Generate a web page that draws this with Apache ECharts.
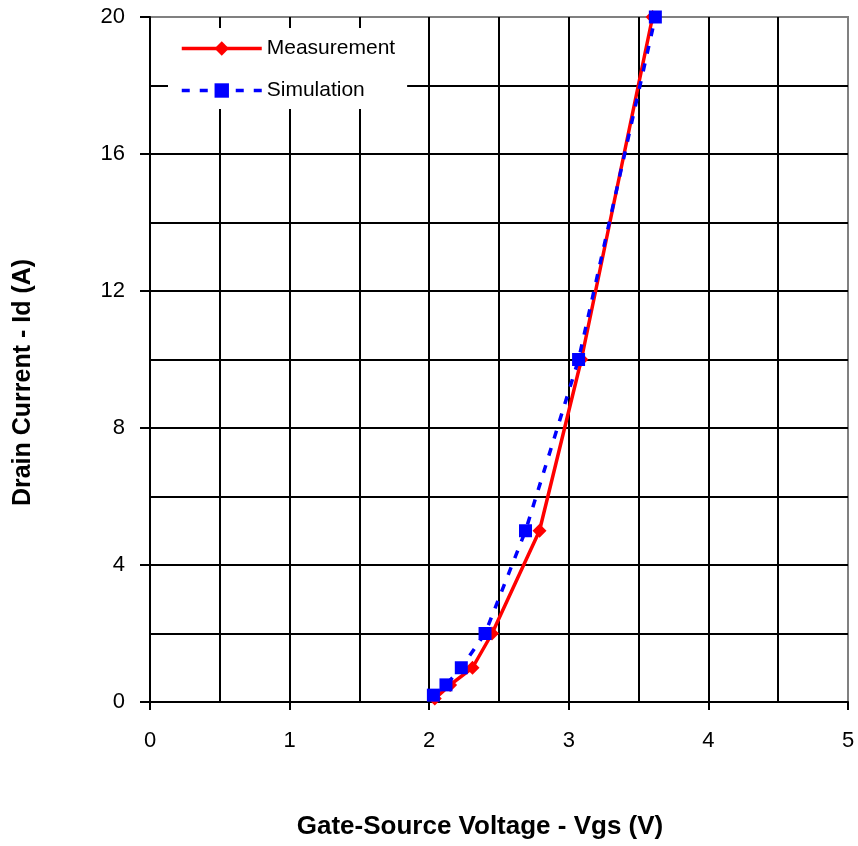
<!DOCTYPE html>
<html>
<head>
<meta charset="utf-8">
<script src="https://cdn.jsdelivr.net/npm/echarts@6/dist/echarts.min.js"></script>
<style>
html, body { margin: 0; padding: 0; background: #fff; }
#chart { width: 858px; height: 846px; }
</style>
</head>
<body>
<div id="chart"></div>
<script>
// measured points
var measVgs = [2.04, 2.15, 2.31, 2.45, 2.79, 3.09, 3.60];
var measId = [0.1, 0.5, 1.0, 2.0, 5.0, 10.0, 20.0];
// simulated points
var simVgs = [2.03, 2.12, 2.23, 2.40, 2.69, 3.07, 3.62];
var simId = [0.2, 0.5, 1.0, 2.0, 5.0, 10.0, 20.0];

function pairs(xs, ys) {
	var out = [];
	for (var i = 0; i < xs.length; i++) {
		out.push([xs[i], ys[i]]);
	}
	return out;
}

var myChart = echarts.init(document.getElementById('chart'));
var font = 'Liberation Sans, Arial, sans-serif';

var option = {
	animation: false,
	textStyle: { fontFamily: font },
	grid: {
		left: 150,
		right: 10,
		top: 17,
		bottom: 144,
		show: true,
		borderColor: '#808080',
		borderWidth: 2
	},
	legend: {
		orient: 'vertical',
		left: 168,
		top: 28,
		padding: [10, 12, 8, 12],
		itemGap: 21,
		itemWidth: 80,
		itemHeight: 18,
		backgroundColor: '#fff',
		textStyle: { fontSize: 21, color: '#000', fontFamily: font },
		data: [
			{ name: 'Measurement', lineStyle: { width: 3.5 } },
			{ name: 'Simulation', lineStyle: { width: 3.5 } }
		]
	},
	xAxis: {
		type: 'value',
		min: 0,
		max: 5,
		interval: 1,
		name: 'Gate-Source Voltage - Vgs (V)',
		nameLocation: 'middle',
		nameGap: 112,
		nameTextStyle: { fontSize: 26, fontWeight: 'bold', color: '#000', fontFamily: font, padding: [0, 38, 0, 0] },
		axisLine: { show: true, lineStyle: { color: '#000', width: 2 } },
		axisTick: { show: true, length: 8, lineStyle: { color: '#000', width: 2 } },
		axisLabel: { fontSize: 22, color: '#000', margin: 28, fontFamily: font },
		splitLine: { show: true, showMinLine: false, showMaxLine: false, lineStyle: { color: '#000', width: 2 } },
		minorTick: { show: false, splitNumber: 2 },
		minorSplitLine: { show: true, lineStyle: { color: '#000', width: 2 } }
	},
	yAxis: {
		type: 'value',
		min: 0,
		max: 20,
		interval: 4,
		name: 'Drain Current - Id (A)',
		nameLocation: 'middle',
		nameGap: 114,
		nameTextStyle: { fontSize: 25, fontWeight: 'bold', color: '#000', fontFamily: font, padding: [0, 46, 0, 0] },
		axisLine: { show: true, lineStyle: { color: '#000', width: 2 } },
		axisTick: { show: true, length: 10, lineStyle: { color: '#000', width: 2 } },
		axisLabel: { fontSize: 22, color: '#000', margin: 25, fontFamily: font },
		splitLine: { show: true, showMinLine: false, showMaxLine: false, lineStyle: { color: '#000', width: 2 } },
		minorTick: { show: false, splitNumber: 2 },
		minorSplitLine: { show: true, lineStyle: { color: '#000', width: 2 } }
	},
	series: [
		{
			name: 'Measurement',
			type: 'line',
			data: pairs(measVgs, measId),
			symbol: 'diamond',
			symbolSize: 14,
			lineStyle: { color: '#ff0000', width: 3.5 },
			itemStyle: { color: '#ff0000' },
			z: 3
		},
		{
			name: 'Simulation',
			type: 'line',
			data: pairs(simVgs, simId),
			symbol: 'rect',
			symbolSize: 13,
			lineStyle: { color: '#0000ff', width: 3.5, type: [8, 10] },
			itemStyle: { color: '#0000ff' },
			z: 4
		}
	]
};

myChart.setOption(option);
</script>
</body>
</html>
